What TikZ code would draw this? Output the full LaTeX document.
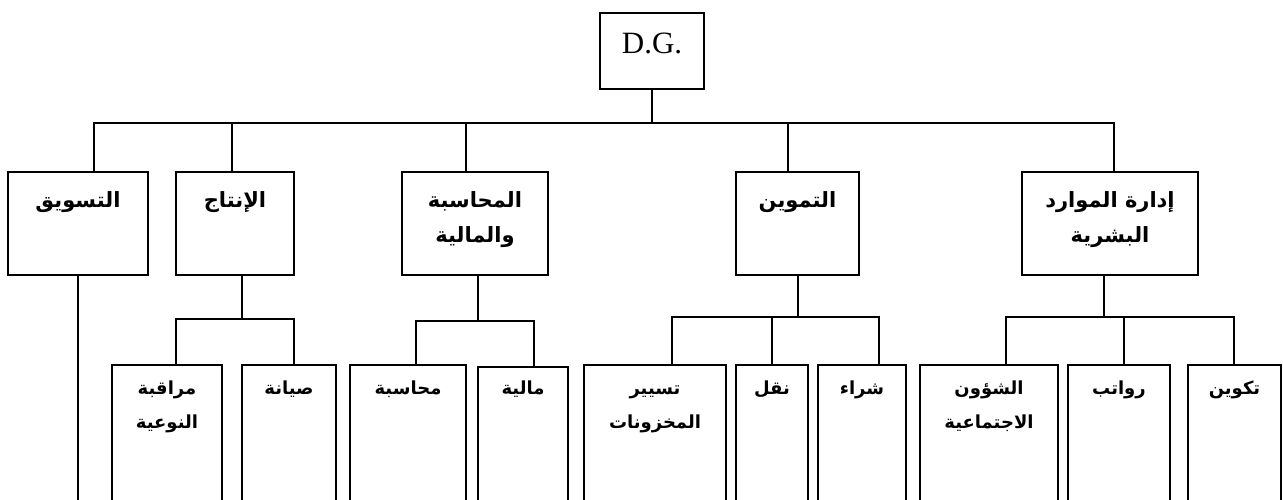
\documentclass[tikz,border=0pt]{standalone}
\usepackage{fontspec}
\usetikzlibrary{fit}
\TeXXeTstate=1
\newfontfamily\arabicfont[Script=Arabic]{DejaVu Sans}
\newfontfamily\latinserif{Liberation Serif}
\newcommand\artxt[1]{\beginR #1\endR}

\begin{document}
\begin{tikzpicture}[x=1pt, y=-1pt, line width=2pt,
  box/.style={draw, inner sep=0pt, outer sep=0pt},
  toplbl/.style={font=\arabicfont\bfseries\fontsize{21}{35}\selectfont, align=center, anchor=base, inner sep=0pt},
  sublbl/.style={font=\arabicfont\bfseries\fontsize{18}{34}\selectfont, align=center, anchor=base, inner sep=0pt},
  wire/.style={line join=miter}]

\useasboundingbox (0,0) rectangle (1283,499);
\clip (0,0) rectangle (1283,499);

% general management
\node[box, fit={(600,13) (704,89)}] (dg) {};
\node[font=\latinserif\fontsize{31}{31}\selectfont, anchor=base, inner sep=0pt] (dgT) at (652,53) {D.G.};

% departments
\node[box, fit={(8,172) (148,275)}]    (tasweeq)  {};
\node[box, fit={(176,172) (294,275)}]  (intaj)    {};
\node[box, fit={(402,172) (548,275)}]  (muhasaba) {};
\node[box, fit={(736,172) (859,275)}]  (tamwin)   {};
\node[box, fit={(1022,172) (1198,275)}] (idara)   {};

% one-line labels sit on the first baseline, two-line labels on the second
\node[toplbl] (tasweeqT)  at (tasweeq.north |- 0,207)  {\artxt{التسويق}};
\node[toplbl] (intajT)    at (intaj.north |- 0,207)    {\artxt{الإنتاج}};
\node[toplbl] (muhasabaT) at (muhasaba.north |- 0,242) {\artxt{المحاسبة}\\\artxt{والمالية}};
\node[toplbl] (tamwinT)   at (tamwin.north |- 0,207)   {\artxt{التموين}};
\node[toplbl] (idaraT)    at (idara.north |- 0,242)    {\artxt{إدارة الموارد}\\\artxt{البشرية}};

% services
\node[box, fit={(112,365) (222,520)}]  (nawiya) {};
\node[box, fit={(242,365) (336,520)}]  (siyana) {};
\node[box, fit={(350,365) (466,520)}]  (muhas)  {};
\node[box, fit={(478,367) (568,520)}]  (maliya) {};
\node[box, fit={(584,365) (726,520)}]  (taysir) {};
\node[box, fit={(736,365) (808,520)}]  (naql)   {};
\node[box, fit={(818,365) (906,520)}]  (shira)  {};
\node[box, fit={(920,365) (1058,520)}] (shuun)  {};
\node[box, fit={(1068,365) (1170,520)}] (rawatib) {};
\node[box, fit={(1188,365) (1281,520)}] (takwin) {};

\node[sublbl] (nawiyaT)  at (nawiya.north |- 0,428)  {\artxt{مراقبة}\\\artxt{النوعية}};
\node[sublbl] (siyanaT)  at (siyana.north |- 0,394)  {\artxt{صيانة}};
\node[sublbl] (muhasT)   at (muhas.north |- 0,394)   {\artxt{محاسبة}};
\node[sublbl] (maliyaT)  at (maliya.north |- 0,394)  {\artxt{مالية}};
\node[sublbl] (taysirT)  at (taysir.north |- 0,428)  {\artxt{تسيير}\\\artxt{المخزونات}};
\node[sublbl] (naqlT)    at (naql.north |- 0,394)    {\artxt{نقل}};
\node[sublbl] (shiraT)   at (shira.north |- 0,394)   {\artxt{شراء}};
\node[sublbl] (shuunT)   at (shuun.north |- 0,428)   {\artxt{الشؤون}\\\artxt{الاجتماعية}};
\node[sublbl] (rawatibT) at (rawatib.north |- 0,394) {\artxt{رواتب}};
\node[sublbl] (takwinT)  at (takwin.north |- 0,394)  {\artxt{تكوين}};

% top-level bus
\coordinate (busL) at (94,123);
\coordinate (busR) at (1114,123);
\draw[wire] (dg.south) -- (dg.south |- busL);
\draw[wire] (busL |- tasweeq.north) -- (busL) -- (busR) -- (busR |- idara.north);
\coordinate (b2) at (232,123);
\coordinate (b3) at (466,123);
\coordinate (b4) at (788,123);
\draw[wire] (b2) -- (b2 |- intaj.north);
\draw[wire] (b3) -- (b3 |- muhasaba.north);
\draw[wire] (b4) -- (b4 |- tamwin.north);

% marketing line runs on down
\coordinate (tasEnd) at (78,520);
\draw[wire] (tasweeq.south) -- (tasEnd);

% production
\coordinate (p0) at (242,319);
\coordinate (pL) at (176,319);
\coordinate (pR) at (294,319);
\draw[wire] (p0 |- intaj.south) -- (p0);
\draw[wire] (pL |- nawiya.north) -- (pL) -- (pR) -- (pR |- siyana.north);

% accounting and finance
\coordinate (a0) at (478,321);
\coordinate (aL) at (416,321);
\coordinate (aR) at (534,321);
\draw[wire] (a0 |- muhasaba.south) -- (a0);
\draw[wire] (aL |- muhas.north) -- (aL) -- (aR) -- (aR |- maliya.north);

% supply
\coordinate (t0) at (798,317);
\coordinate (tL) at (672,317);
\coordinate (tM) at (772,317);
\coordinate (tR) at (879,317);
\draw[wire] (t0 |- tamwin.south) -- (t0);
\draw[wire] (tL |- taysir.north) -- (tL) -- (tR) -- (tR |- shira.north);
\draw[wire] (tM) -- (tM |- naql.north);

% human resources
\coordinate (h0) at (1104,317);
\coordinate (hL) at (1006,317);
\coordinate (hM) at (1124,317);
\coordinate (hR) at (1234,317);
\draw[wire] (h0 |- idara.south) -- (h0);
\draw[wire] (hL |- shuun.north) -- (hL) -- (hR) -- (hR |- takwin.north);
\draw[wire] (hM) -- (hM |- rawatib.north);

\end{tikzpicture}
\end{document}
